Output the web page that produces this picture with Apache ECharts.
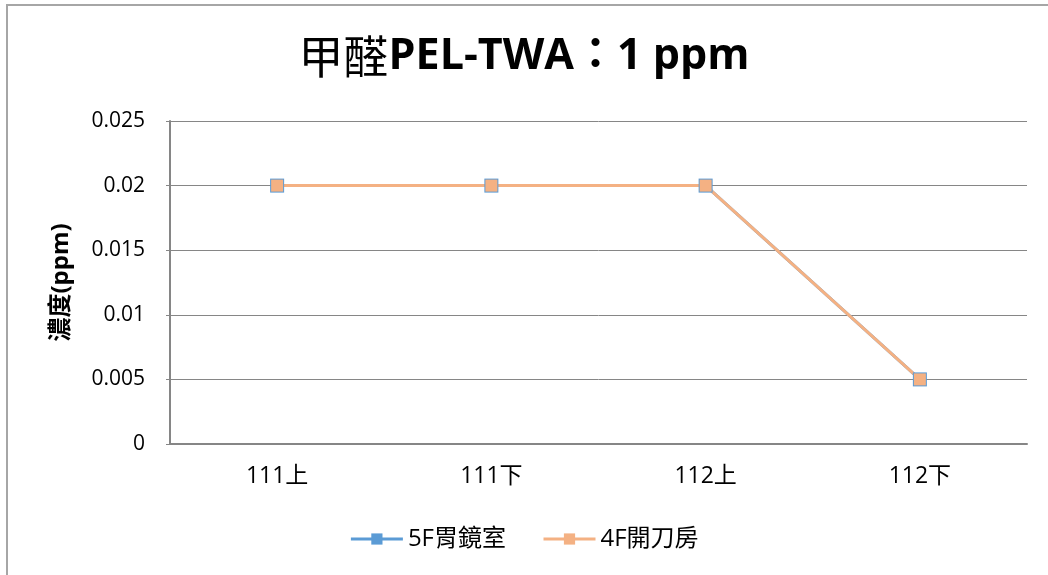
<!DOCTYPE html>
<html>
<head>
    <meta charset="utf-8">
    <title>甲醛PEL-TWA</title>
    <script src="https://cdn.jsdelivr.net/npm/echarts@6/dist/echarts.min.js"></script>
    <style>
        body { margin: 0; padding: 0; background: #fff; }
    </style>
</head>
<body>
<div id="main" style="margin:0px;padding:0px;width:1048px;height:575px;"></div>
<script type="text/javascript">
    // 資料
    var categories = ['111上', '111下', '112上', '112下'];
    var series5F = [0.02, 0.02, 0.02, 0.005];
    var series4F = [0.02, 0.02, 0.02, 0.005];
    var seriesNames = ['5F胃鏡室', '4F開刀房'];
    var yTicks = { min: 0, max: 0.025, interval: 0.005 };

    var latin = '"Open Sans", "Noto Sans CJK TC", sans-serif';

    var myChart = echarts.init(document.getElementById('main'));

    var option = {
        backgroundColor: '#ffffff',
        animation: false,
        title: {
            text: '{cjk|甲醛}{lat|PEL-TWA：1 ppm}',
            left: 'center',
            top: 29,
            textStyle: {
                rich: {
                    cjk: { fontFamily: '"Noto Sans CJK TC"', fontSize: 45, fontWeight: 'normal', color: '#000' },
                    lat: { fontFamily: latin, fontSize: 43, fontWeight: 'bold', color: '#000' }
                }
            }
        },
        graphic: [{
            type: 'rect',
            shape: { x: 7, y: 5, width: 1200, height: 800 },
            style: { fill: 'none', stroke: '#a6a6a6', lineWidth: 2 },
            silent: true
        }],
        legend: {
            data: seriesNames,
            bottom: 19,
            left: 'center',
            itemWidth: 52,
            itemHeight: 14,
            itemGap: 36,
            lineStyle: { width: 3 },
            textStyle: { fontFamily: latin, fontSize: 24, color: '#000' }
        },
        grid: {
            left: 170,
            right: 21,
            top: 121,
            bottom: 131,
            containLabel: false
        },
        xAxis: {
            type: 'category',
            data: categories,
            boundaryGap: true,
            axisLine: { lineStyle: { color: '#868686', width: 2 } },
            axisTick: { show: false },
            axisLabel: { color: '#000', fontFamily: latin, fontSize: 23, margin: 21 }
        },
        yAxis: {
            type: 'value',
            min: yTicks.min,
            max: yTicks.max,
            interval: yTicks.interval,
            name: '濃度(ppm)',
            nameLocation: 'middle',
            nameGap: 97,
            nameTextStyle: { fontFamily: latin, fontSize: 24, fontWeight: 'bold', color: '#000' },
            axisLine: { show: true, lineStyle: { color: '#868686', width: 2 } },
            axisTick: { show: true, length: 4, lineStyle: { color: '#868686' } },
            axisLabel: { color: '#000', fontFamily: latin, fontSize: 21, margin: 25 },
            splitLine: { lineStyle: { color: '#868686', width: 1 } }
        },
        series: [{
            name: seriesNames[0],
            type: 'line',
            data: series5F,
            symbol: 'rect',
            symbolSize: 14,
            color: '#5B9BD5',
            lineStyle: { color: '#5B9BD5', width: 3 },
            itemStyle: { color: '#5B9BD5' }
        }, {
            name: seriesNames[1],
            type: 'line',
            data: series4F,
            symbol: 'rect',
            symbolSize: 12,
            color: '#F4B183',
            lineStyle: { color: '#F4B183', width: 3 },
            itemStyle: { color: '#F4B183' }
        }]
    };

    myChart.setOption(option);
</script>
</body>
</html>
